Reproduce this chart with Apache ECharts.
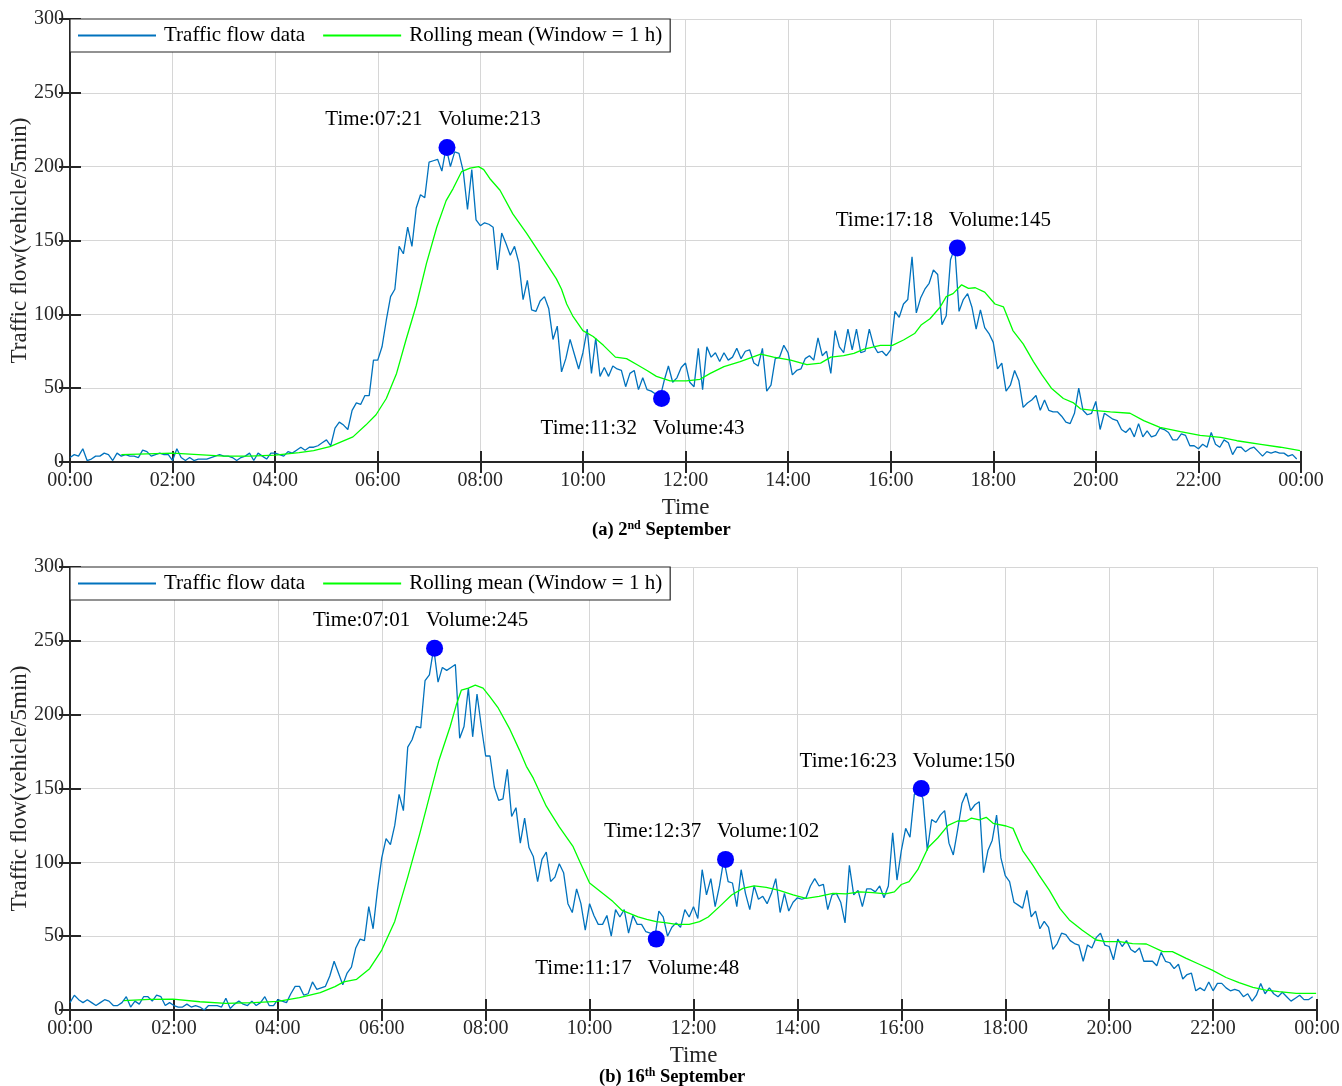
<!DOCTYPE html>
<html>
<head>
<meta charset="utf-8">
<script src="https://cdn.jsdelivr.net/npm/echarts@6/dist/echarts.min.js"></script>
<style>
html,body{margin:0;padding:0;background:#fff;}
#chart{width:1342px;height:1086px;}
</style>
</head>
<body>
<div id="chart"></div>
<script>
// ---- Data (5-minute counts) ----
const flowSep2 = [
3,5,4,9,1,2,4,4,6,5,
1,6,4,5,4,4,3,8,7,4,
5,6,5,5,1,9,3,1,3,1,
2,2,2,3,4,5,4,4,3,1,
3,4,6,1,6,4,2,6,6,5,
4,7,6,8,10,8,10,10,11,13,
15,11,23,27,25,22,35,40,39,45,
45,69,69,78,96,112,117,146,141,159,
146,172,181,179,203,204,205,197,213,200,
210,209,197,171,198,164,160,162,161,159,
130,155,148,140,146,135,110,123,103,102,
109,112,104,83,92,61,70,83,73,63,
74,90,60,84,58,64,58,65,63,62,
51,60,62,49,57,49,48,46,43,55,
65,54,57,64,67,54,51,77,49,78,
71,74,68,74,69,71,77,70,75,76,
67,65,77,48,52,70,71,79,74,59,
62,63,70,72,69,84,72,75,60,89,
78,74,90,76,90,74,75,90,79,74,
75,72,76,102,98,107,110,139,101,111,
117,121,130,127,93,99,137,145,102,110,
114,105,90,103,91,87,81,63,67,48,
52,62,55,37,40,42,45,35,42,35,
34,34,31,27,26,33,50,35,32,33,
41,22,33,31,29,28,22,20,23,17,
26,17,21,17,18,23,22,20,15,15,
19,18,11,11,9,12,10,20,12,10,
15,13,5,10,10,7,9,10,7,4,
7,6,7,6,6,4,5,2
];
const rollMinSep2 = [60,90,120,150,180,210,240,268,285,304,313,331,346,358,370,382,393,405,417,429,440,448,458,468,478,484,491,503,518,534,550,569,575,581,588,600,612,624,638,651,663,675,686,702,721,737,749,765,784,808,823,843,862,878,890,905,917,929,948,962,975,988,996,1006,1018,1025,1033,1043,1051,1059,1070,1082,1092,1103,1115,1127,1137,1148,1162,1174,1182,1197,1217,1240,1256,1275,1299,1322,1346,1365,1393,1416,1439];
const rollValSep2 = [5,5.5,6,5,4,4,4.7,6.3,7.7,10.4,12.6,17,25,32,43,60,82.6,106,134.5,159,177,185,196.6,199,200,198,192,184,168,155,141,124,117,107,99,89,85,79,71,70,66,62,58,55,55,56,60,64.6,68,73,71,69,66,67,71,72,73.6,76.5,79,79,82.6,87,93,97,105,112,114,120,117.6,118,115,107,105,89,80,68,59,50,43,40,36,35,34,33,28,23.5,20.5,18,16.7,14.4,12,10,7.7];

const flowSep16 = [
5,10,7,5,7,5,3,5,7,6,
3,3,5,9,2,6,4,9,9,6,
10,9,3,5,3,2,2,4,2,3,
2,0,3,3,3,2,8,1,4,6,
4,3,6,3,5,9,3,3,7,6,
5,11,16,16,10,11,19,14,15,16,
23,33,25,17,25,29,42,48,47,70,
55,81,103,116,112,125,146,135,178,183,
192,191,223,227,245,222,232,230,232,234,
184,192,218,185,214,192,172,172,151,142,
143,163,131,137,113,130,110,104,87,102,
107,87,90,99,93,72,66,82,72,54,
72,64,58,58,64,50,68,63,68,52,
64,58,58,53,52,48,67,63,50,56,
59,56,68,63,70,62,95,78,89,70,
84,102,87,86,70,95,79,68,84,75,
77,72,79,89,66,79,67,73,76,75,
76,84,89,84,85,68,78,79,73,59,
98,78,81,70,82,82,80,84,76,84,
120,88,108,123,117,146,150,143,108,129,
127,132,135,113,105,122,140,147,135,139,
141,93,108,115,132,103,91,87,73,71,
69,81,63,67,55,60,56,41,45,52,
51,47,45,44,33,44,42,49,52,44,
43,34,48,43,47,41,39,42,33,33,
33,30,39,33,32,28,31,21,24,25,
13,15,13,19,13,18,18,15,13,14,
13,9,11,6,10,18,11,15,11,9,
12,9,6,8,10,7,7,9
];
const rollMinSep16 = [62,92,119,150,180,212,240,265,289,306,316,331,346,360,375,390,404,416,426,439,446,452,460,468,477,485,494,508,519,527,535,550,565,581,589,600,615,627,637,646,656,666,677,689,700,715,727,737,750,764,777,790,804,819,835,850,865,881,896,912,927,942,952,960,969,979,991,1002,1014,1025,1035,1041,1050,1058,1066,1081,1089,1100,1112,1119,1131,1143,1154,1169,1185,1196,1212,1227,1243,1262,1273,1289,1304,1319,1335,1350,1366,1381,1396,1416,1439];
const rollValSep16 = [6.3,7.2,7.4,5.6,4.5,5,5.9,8.4,11.7,15.8,19,20.8,28,40.6,60,90,119.6,146.7,169,192,206.5,216.7,218,220,218,212,205,190,176,165,157,138,124,110.6,100,86,79,73.4,67.7,65.5,63,61.4,59.8,59,58,58,59.8,63,70,77.9,82.4,84,83,81,77.9,75.6,77,79,78.6,80,79.5,78.6,80,85,87,95,110,116.5,125,128,128,130,128.7,130.5,126.4,124.6,123,108,98,91.4,81,68.8,61,54,47.4,46.3,46.3,45,44.7,39.5,39.5,35,31,27,22,18.5,15.3,13.5,12.4,11.3,11.3];

const peakTimesSep2 = ['07:21','11:32','17:18'];
const peakVolsSep2 = [213,43,145];
const peakTimesSep16 = ['07:01','11:17','12:37','16:23'];
const peakVolsSep16 = [245,48,102,150];

const seriesNames = ['Traffic flow data','Rolling mean (Window = 1 h)'];
const panelTitles = [['(a) 2','nd',' September'],['(b) 16','th',' September']];
const xTitle = 'Time';
const yTitle = 'Traffic flow(vehicle/5min)';

// ---- Chart ----
const FONT = '"Liberation Serif","Times New Roman",serif';
const AX = '#262626';
const BLUE = '#0072BD';
const GREEN = '#00FF00';
const toMin = s => { const p = s.split(':'); return (+p[0])*60 + (+p[1]); };
const pad = n => (n < 10 ? '0' : '') + n;
const fmtTime = v => pad(Math.floor((v % 1440) / 60)) + ':00';

const grids = [
  {left:70, right:41, top:19, height:443, containLabel:false, outerBoundsMode:'none'},
  {left:70, right:25, top:567, height:443, containLabel:false, outerBoundsMode:'none'}
];

const xAxes = [], yAxes = [];
grids.forEach((g, k) => {
  xAxes.push({
    type:'value', gridIndex:k, min:0, max:1440, interval:120,
    name:xTitle, nameLocation:'middle', nameGap:34, nameMoveOverlap:false,
    nameTextStyle:{fontFamily:FONT, fontSize:23, color:AX},
    axisLine:{lineStyle:{color:AX, width:2}},
    axisTick:{inside:true, length:11, lineStyle:{color:AX, width:2}},
    axisLabel:{fontFamily:FONT, fontSize:20, color:AX, margin:9, formatter:fmtTime},
    splitLine:{show:true, lineStyle:{color:'#d6d6d6', width:1}}
  });
  xAxes.push({
    type:'value', gridIndex:k, min:0, max:1440, interval:120, position:'top',
    axisLine:{lineStyle:{color:AX, width:2}},
    axisTick:{inside:true, length:11, lineStyle:{color:AX, width:2}},
    axisLabel:{show:false}, splitLine:{show:false}
  });
  yAxes.push({
    type:'value', gridIndex:k, min:0, max:300, interval:50,
    name:yTitle, nameLocation:'middle', nameGap:39, nameMoveOverlap:false,
    nameTextStyle:{fontFamily:FONT, fontSize:23, color:AX},
    axisLine:{show:true, lineStyle:{color:AX, width:2}},
    axisTick:{show:true, inside:true, length:11, lineStyle:{color:AX, width:2}},
    axisLabel:{fontFamily:FONT, fontSize:20, color:AX, margin:6},
    splitLine:{show:true, lineStyle:{color:'#d6d6d6', width:1}}
  });
  yAxes.push({
    type:'value', gridIndex:k, min:0, max:300, interval:50, position:'right',
    axisLine:{show:true, lineStyle:{color:AX, width:2}},
    axisTick:{show:true, inside:true, length:11, lineStyle:{color:AX, width:2}},
    axisLabel:{show:false}, splitLine:{show:false}
  });
});

const panels = [
  {flow:flowSep2, rm:rollMinSep2, rv:rollValSep2, pt:peakTimesSep2, pv:peakVolsSep2, below:[1]},
  {flow:flowSep16, rm:rollMinSep16, rv:rollValSep16, pt:peakTimesSep16, pv:peakVolsSep16, below:[1]}
];

const series = [];
panels.forEach((p, k) => {
  series.push({
    name:seriesNames[0], type:'line', xAxisIndex:2*k, yAxisIndex:2*k,
    data:p.flow.map((v, i) => [i*5, v]),
    showSymbol:false, symbol:'none', silent:true, animation:false,
    itemStyle:{color:BLUE}, lineStyle:{color:BLUE, width:1.3}, z:3
  });
  series.push({
    name:seriesNames[1], type:'line', xAxisIndex:2*k, yAxisIndex:2*k,
    data:p.rm.map((m, i) => [m, p.rv[i]]),
    showSymbol:false, symbol:'none', silent:true, animation:false,
    itemStyle:{color:GREEN}, lineStyle:{color:GREEN, width:1.3}, z:4
  });
  series.push({
    type:'scatter', xAxisIndex:2*k, yAxisIndex:2*k, symbolSize:17, z:6, silent:true, animation:false,
    itemStyle:{color:'#0000FF', opacity:1},
    data:p.pt.map((t, i) => {
      const below = p.below.indexOf(i) >= 0;
      return {
        value:[toMin(t), p.pv[i]],
        label:{
          show:true, position: below ? 'bottom' : 'top', distance: below ? 10 : 8,
          offset:[below ? -19 : -14, 0],
          formatter:'Time:' + t + '   Volume:' + p.pv[i],
          fontFamily:FONT, fontSize:21, color:'#000', lineHeight:22
        }
      };
    })
  });
});

const legends = grids.map(g => ({
  left:g.left, top:g.top, orient:'horizontal',
  data:seriesNames.map(n => ({name:n, icon:'rect'})),
  itemWidth:78, itemHeight:2, itemGap:18,
  padding:[6,8,6,8],
  backgroundColor:'#fff', borderColor:AX, borderWidth:1.2,
  textStyle:{fontFamily:FONT, fontSize:21, color:'#000', padding:[0,0,0,3]},
  selectedMode:false
}));

const titles = panelTitles.map((t, k) => ({
  text:'{b|' + t[0] + '}{s|' + t[1] + '}{b|' + t[2] + '}',
  left: k === 0 ? 592 : 599,
  top: k === 0 ? 520 : 1067,
  padding:0,
  textStyle:{
    rich:{
      b:{fontFamily:FONT, fontWeight:'bold', fontSize:18.5, color:'#000', lineHeight:21},
      s:{fontFamily:FONT, fontWeight:'bold', fontSize:12, color:'#000', verticalAlign:'top', lineHeight:21, padding:[0,0,8,0]}
    }
  }
}));

const chart = echarts.init(document.getElementById('chart'), null, {renderer:'canvas'});
chart.setOption({
  backgroundColor:'#fff',
  animation:false,
  title:titles,
  legend:legends,
  grid:grids,
  xAxis:xAxes,
  yAxis:yAxes,
  series:series
});
</script>
</body>
</html>
